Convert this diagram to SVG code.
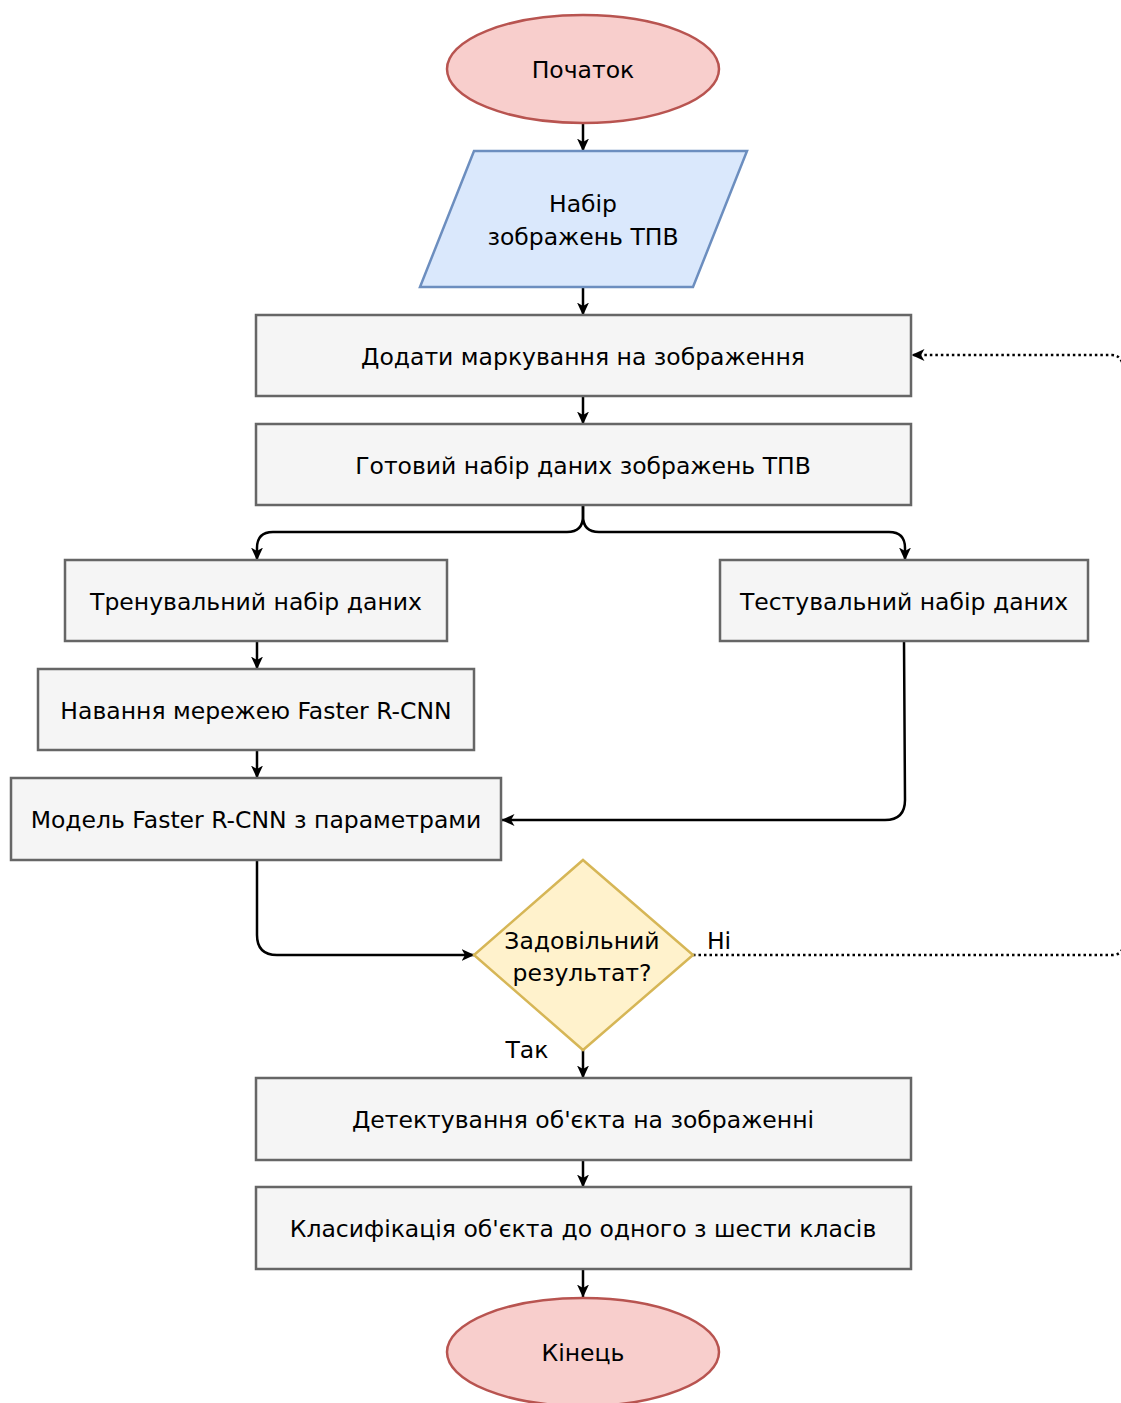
<svg xmlns="http://www.w3.org/2000/svg" width="1121" height="1403" viewBox="0 0 1121 1403">
  <style>
    .term { fill: #f8cecc; stroke: #b85450; stroke-width: 2.5; }
    .io { fill: #dae8fc; stroke: #6c8ebf; stroke-width: 2.5; }
    .proc { fill: #f5f5f5; stroke: #666666; stroke-width: 2.5; }
    .dec { fill: #fff2cc; stroke: #d6b656; stroke-width: 2.5; }
    .lbl { font-family: "DejaVu Sans", Verdana, sans-serif; font-size: 23.5px; fill: #000000; text-anchor: middle; dominant-baseline: central; }
    .edge { fill: none; stroke: #000000; stroke-width: 2.5; }
    .dot { fill: none; stroke: #000000; stroke-width: 2.5; stroke-dasharray: 2.5 3; }
  </style>
  <defs>
    <marker id="arrow" viewBox="0 0 13 12" refX="12.5" refY="6" markerWidth="13" markerHeight="12" markerUnits="userSpaceOnUse" orient="auto">
      <path d="M0,0 L13,6 L0,12 L3.5,6 Z" fill="#000000"/>
    </marker>
  </defs>

  <g id="connectors">
    <path class="edge" d="M583,123 L583,151" marker-end="url(#arrow)"/>
    <path class="edge" d="M583,287 L583,315" marker-end="url(#arrow)"/>
    <path class="edge" d="M583,396 L583,424" marker-end="url(#arrow)"/>
    <path class="edge" d="M583,505 L583,516 Q583,532 567,532 L273,532 Q257,532 257,548 L257,560" marker-end="url(#arrow)"/>
    <path class="edge" d="M583,505 L583,516 Q583,532 599,532 L889,532 Q905,532 905,548 L905,560" marker-end="url(#arrow)"/>
    <path class="edge" d="M257,641 L257,669" marker-end="url(#arrow)"/>
    <path class="edge" d="M257,750 L257,778" marker-end="url(#arrow)"/>
    <path class="edge" d="M904,641 L905,800 Q905,820 885,820 L502,820" marker-end="url(#arrow)"/>
    <path class="edge" d="M257,860 L257,935 Q257,955 277,955 L474,955" marker-end="url(#arrow)"/>
    <path class="dot" d="M693,955 L1112,955 Q1119,955 1122,950"/>
    <path class="dot" d="M1122,362 Q1119,355 1112,355 L912,355" marker-end="url(#arrow)"/>
    <path class="edge" d="M583,1050 L583,1078" marker-end="url(#arrow)"/>
    <path class="edge" d="M583,1160 L583,1187" marker-end="url(#arrow)"/>
    <path class="edge" d="M583,1269 L583,1297" marker-end="url(#arrow)"/>
    <text class="lbl" x="719" y="941">Ні</text>
    <text class="lbl" x="527" y="1050">Так</text>
  </g>

  <g id="start">
    <ellipse class="term" cx="583" cy="69" rx="136" ry="54"/>
    <text class="lbl" x="583" y="70">Початок</text>
  </g>
  <g id="dataset">
    <polygon class="io" points="474,151 747,151 693,287 420,287"/>
    <text class="lbl" x="583" y="204">Набір</text>
    <text class="lbl" x="583" y="237">зображень ТПВ</text>
  </g>
  <g id="annotate">
    <rect class="proc" x="256" y="315" width="655" height="81"/>
    <text class="lbl" x="583" y="357">Додати маркування на зображення</text>
  </g>
  <g id="ready">
    <rect class="proc" x="256" y="424" width="655" height="81"/>
    <text class="lbl" x="583" y="466">Готовий набір даних зображень ТПВ</text>
  </g>
  <g id="train">
    <rect class="proc" x="65" y="560" width="382" height="81"/>
    <text class="lbl" x="256" y="602">Тренувальний набір даних</text>
  </g>
  <g id="test">
    <rect class="proc" x="720" y="560" width="368" height="81"/>
    <text class="lbl" x="904" y="602">Тестувальний набір даних</text>
  </g>
  <g id="training">
    <rect class="proc" x="38" y="669" width="436" height="81"/>
    <text class="lbl" x="256" y="711">Навання мережею Faster R-CNN</text>
  </g>
  <g id="model">
    <rect class="proc" x="11" y="778" width="490" height="82"/>
    <text class="lbl" x="256" y="820">Модель Faster R-CNN з параметрами</text>
  </g>
  <g id="check">
    <polygon class="dec" points="583,860 693,955 583,1050 474,955"/>
    <text class="lbl" x="582" y="941">Задовільний</text>
    <text class="lbl" x="582" y="973">результат?</text>
  </g>
  <g id="detect">
    <rect class="proc" x="256" y="1078" width="655" height="82"/>
    <text class="lbl" x="583" y="1120">Детектування об'єкта на зображенні</text>
  </g>
  <g id="classify">
    <rect class="proc" x="256" y="1187" width="655" height="82"/>
    <text class="lbl" x="583" y="1229">Класифікація об'єкта до одного з шести класів</text>
  </g>
  <g id="end">
    <ellipse class="term" cx="583" cy="1352" rx="136" ry="54"/>
    <text class="lbl" x="583" y="1353">Кінець</text>
  </g>
</svg>
